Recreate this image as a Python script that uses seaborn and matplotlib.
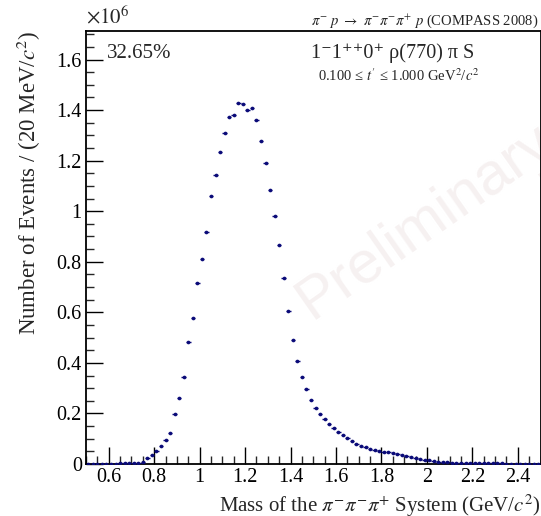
import matplotlib
matplotlib.use("Agg")
import matplotlib.pyplot as plt
import seaborn as sns
import numpy as np
import pandas as pd
from matplotlib.ticker import MultipleLocator, FuncFormatter

# ---- data (events in units of 10^6 per 20 MeV bin) ----
mass = [round(0.51 + 0.02 * i, 2) for i in range(100)]
events = [
    0.001, 0.001, 0.001, 0.001, 0.001, 0.001, 0.001, 0.002, 0.002, 0.003,
    0.004, 0.005, 0.008, 0.023, 0.035, 0.050, 0.072, 0.094, 0.121, 0.199,
    0.263, 0.344, 0.484, 0.576, 0.715, 0.809, 0.916, 1.062, 1.142, 1.233,
    1.308, 1.372, 1.381, 1.428, 1.423, 1.401, 1.408, 1.362, 1.277, 1.192,
    1.083, 0.981, 0.867, 0.736, 0.605, 0.490, 0.407, 0.343, 0.296, 0.253,
    0.223, 0.199, 0.178, 0.158, 0.144, 0.128, 0.115, 0.101, 0.090, 0.080,
    0.072, 0.066, 0.059, 0.055, 0.051, 0.049, 0.047, 0.043, 0.041, 0.037,
    0.033, 0.028, 0.024, 0.020, 0.017, 0.015, 0.012, 0.009, 0.007, 0.006,
    0.004, 0.004, 0.003, 0.003, 0.002, 0.002, 0.002, 0.002, 0.002, 0.002,
    0.002, 0.002, 0.001, 0.001, 0.001, 0.001, 0.001, 0.001, 0.001, 0.001,
]
bin_half_width = 0.01
xticks = [0.6, 0.8, 1.0, 1.2, 1.4, 1.6, 1.8, 2.0, 2.2, 2.4]
yticks = [0, 0.2, 0.4, 0.6, 0.8, 1.0, 1.2, 1.4, 1.6]

df = pd.DataFrame({"mass": mass, "events": events})

sns.set_theme(style="ticks")
plt.rcParams["font.family"] = ["Liberation Serif", "DejaVu Serif"]
plt.rcParams["mathtext.fontset"] = "stix"

fig = plt.figure(figsize=(5.41, 5.16), dpi=100)
ax = fig.add_axes([86 / 541, 52 / 516, 454.5 / 541, (464 - 30.7) / 516])

# watermark (behind the data)
fig.text(311 / 541, 1 - 320 / 516, "Preliminary", fontsize=43,
         family="Liberation Sans", color="#f6f1f1", rotation=35,
         rotation_mode="anchor", ha="left", va="baseline", zorder=-5)
ax.set_facecolor("none")

navy = "#0a0a78"
ax.errorbar(df["mass"], df["events"], xerr=bin_half_width, fmt="none",
            ecolor=navy, elinewidth=1.0, zorder=3)
sns.scatterplot(data=df, x="mass", y="events", ax=ax, color=navy,
                marker="o", s=7, linewidth=0, zorder=4)

ax.set_xlim(0.5, 2.5)
ax.set_ylim(0, 1.714)
ax.set_xticks(xticks)
ax.set_yticks(yticks)
ax.xaxis.set_minor_locator(MultipleLocator(0.05))
ax.yaxis.set_minor_locator(MultipleLocator(0.05))
fmt = FuncFormatter(lambda v, p: "%g" % round(v, 2))
ax.xaxis.set_major_formatter(fmt)
ax.yaxis.set_major_formatter(fmt)
ax.tick_params(which="major", direction="in", length=12, width=1.0,
               labelsize=14.5, colors="black", pad=3)
ax.tick_params(which="minor", direction="in", length=6, width=1.0)
ax.tick_params(top=False, right=False)
for s in ax.spines.values():
    s.set_linewidth(1.3)
    s.set_color("black")

ax.set_xlabel(r"Mass of the $\pi^{-}\pi^{-}\pi^{+}$ System (GeV/$c^{2}$)",
              loc="right", fontsize=15, labelpad=4)
ax.set_ylabel(r"Number of Events / (20 MeV/$c^{2}$)", loc="top",
              fontsize=16.5, labelpad=10)

# annotations
ax.text(0.0, 1.005, r"$\times10^{6}$", transform=ax.transAxes, fontsize=15,
        ha="left", va="bottom")
fig.text(538 / 541, 1 - 25 / 516,
         r"$\pi^{-}$ $p$ $\rightarrow$ $\pi^{-}\pi^{-}\pi^{+}$ $p$ (COMPASS 2008)",
         fontsize=10.5, ha="right", va="baseline")
fig.text(107 / 541, 1 - 58 / 516, "32.65%", fontsize=15, ha="left",
         va="baseline")
fig.text(311 / 541, 1 - 58 / 516, "1⁻1⁺⁺0⁺ ρ(770) π S",
         fontsize=14.5, ha="left", va="baseline")
fig.text(318 / 541, 1 - 81 / 516,
         r"0.100 ≤ $t'$ ≤ 1.000 GeV$^{2}$/$c^{2}$",
         fontsize=10.5, ha="left", va="baseline")

fig.savefig("out.png", dpi=100)
